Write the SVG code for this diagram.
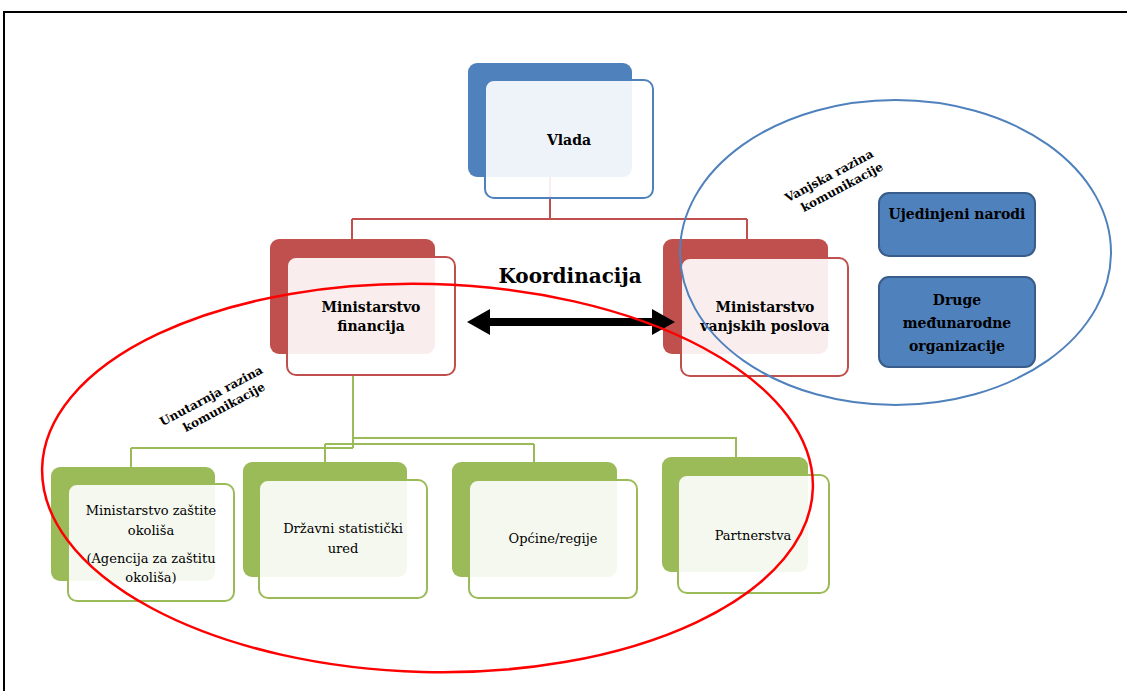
<svg xmlns="http://www.w3.org/2000/svg" width="1127" height="691" viewBox="0 0 1127 691">
<style>
text{font-family:"DejaVu Serif",serif;fill:#000;text-anchor:middle}
.b{font-weight:bold}
.t15{font-size:13px}
.t16{font-size:14px}
.back-blue{fill:#4F81BD}
.back-red{fill:#C0504D}
.back-green{fill:#9BBB59}
.front{fill:#FFFFFF;fill-opacity:0.9;stroke-width:2}
.fb{stroke:#4F81BD}
.fr{stroke:#C0504D}
.fg{stroke:#9BBB59}
.cr{fill:none;stroke:#C0504D;stroke-width:2}
.cg{fill:none;stroke:#9BBB59;stroke-width:2}
.lbl{font-size:12px;font-weight:bold}
</style>
<rect x="0" y="0" width="1127" height="691" fill="#FFFFFF"/>
<path d="M4,691 V12 H1127" fill="none" stroke="#000" stroke-width="2"/>

<g id="connectors">
<path class="cr" d="M550,177 V219 M352,219 H747 M352,219 V239 M747,219 V239"/>
<path class="cg" d="M353,375 V448 M131,448 H353 M131,448 V467 M353,438 H736 V457 M325,444 H534 M325,444 V462 M534,444 V462"/>
</g>

<g id="vlada">
<rect class="back-blue" x="468" y="63" width="164" height="114" rx="9"/>
<rect class="front fb" x="485" y="80" width="168" height="118" rx="9"/>
<text class="b t16" x="569" y="145">Vlada</text>
</g>

<g id="min-financija">
<rect class="back-red" x="270" y="239" width="165" height="115" rx="9"/>
<rect class="front fr" x="287" y="257" width="168" height="118" rx="9"/>
<text class="b t16" x="371" y="312">Ministarstvo</text>
<text class="b t16" x="371" y="331">financija</text>
</g>

<g id="min-vanjskih">
<rect class="back-red" x="663" y="239" width="165" height="115" rx="9"/>
<rect class="front fr" x="681" y="258" width="167" height="118" rx="9"/>
<text class="b t16" x="765" y="312">Ministarstvo</text>
<text class="b t16" x="765" y="331">vanjskih poslova</text>
</g>

<g id="koordinacija">
<text class="b" x="570" y="283" style="font-size:20px">Koordinacija</text>
<polygon points="467,322 490,309 490,318 652,318 652,309 675,322 652,335 652,326 490,326 490,335" fill="#000"/>
</g>

<g id="ujedinjeni">
<rect x="879" y="193" width="156" height="63" rx="10" fill="#4F81BD" stroke="#385D8A" stroke-width="2"/>
<text class="b t16" x="957" y="219">Ujedinjeni narodi</text>
</g>

<g id="druge">
<rect x="879" y="277" width="156" height="90" rx="10" fill="#4F81BD" stroke="#385D8A" stroke-width="2"/>
<text class="b t16" x="957" y="305">Druge</text>
<text class="b t16" x="957" y="328">međunarodne</text>
<text class="b t16" x="957" y="351">organizacije</text>
</g>

<g id="mzo">
<rect class="back-green" x="51" y="467" width="164" height="114" rx="9"/>
<rect class="front fg" x="68" y="484" width="166" height="117" rx="9"/>
<text class="t15" x="151" y="515">Ministarstvo zaštite</text>
<text class="t15" x="151" y="535">okoliša</text>
<text class="t15" x="151" y="563">(Agencija za zaštitu</text>
<text class="t15" x="151" y="582">okoliša)</text>
</g>

<g id="dzs">
<rect class="back-green" x="243" y="462" width="164" height="115" rx="9"/>
<rect class="front fg" x="259" y="480" width="168" height="118" rx="9"/>
<text class="t15" x="343" y="533">Državni statistički</text>
<text class="t15" x="343" y="553">ured</text>
</g>

<g id="opcine">
<rect class="back-green" x="452" y="462" width="165" height="115" rx="9"/>
<rect class="front fg" x="469" y="480" width="168" height="118" rx="9"/>
<text class="t15" x="553" y="543">Općine/regije</text>
</g>

<g id="partnerstva">
<rect class="back-green" x="662" y="457" width="146" height="115" rx="9"/>
<rect class="front fg" x="678" y="475" width="151" height="118" rx="9"/>
<text class="t15" x="753" y="540">Partnerstva</text>
</g>

<g id="vanjska-razina">
<ellipse cx="895.5" cy="252.5" rx="215.5" ry="152.5" fill="none" stroke="#4F81BD" stroke-width="2"/>
<g transform="translate(833,183) rotate(-28)">
<text class="lbl" x="0" y="-4">Vanjska razina</text>
<text class="lbl" x="6" y="12">komunikacije</text>
</g>
</g>

<g id="unutarnja-razina">
<ellipse cx="427.5" cy="478" rx="385.5" ry="194" transform="rotate(1.5 427.5 478)" fill="none" stroke="#FF0000" stroke-width="2.5"/>
<g transform="translate(215,403) rotate(-28)">
<text class="lbl" x="0" y="-4">Unutarnja razina</text>
<text class="lbl" x="6" y="12">komunikacije</text>
</g>
</g>
</svg>
